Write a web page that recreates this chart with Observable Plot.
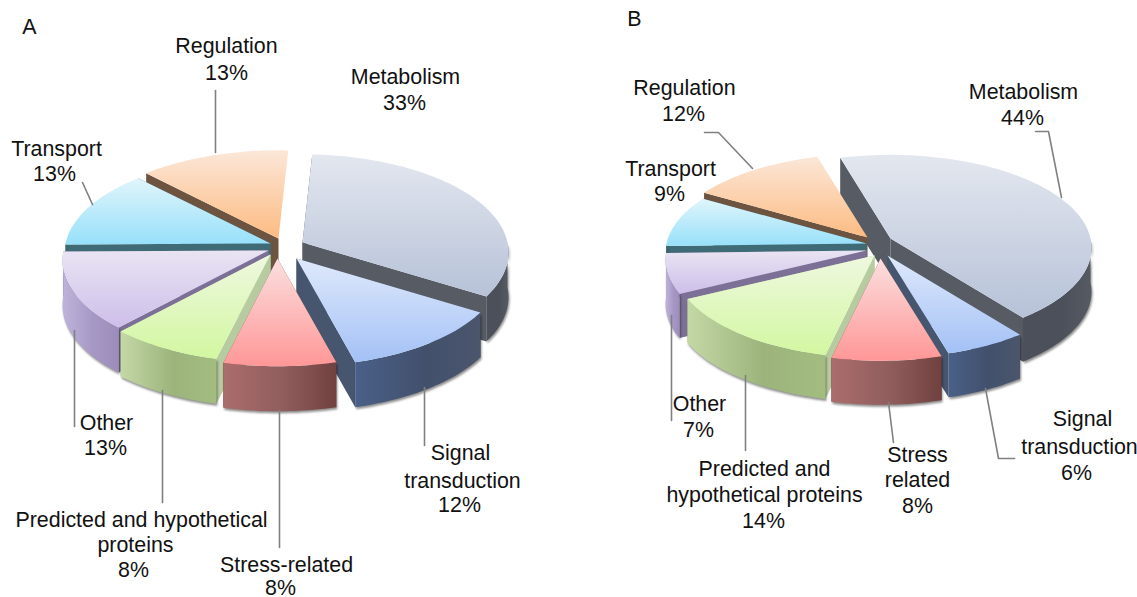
<!DOCTYPE html>
<html>
<head>
<meta charset="utf-8">
<script src="https://cdn.jsdelivr.net/npm/d3@7"></script>
<script src="https://cdn.jsdelivr.net/npm/@observablehq/plot@0.6"></script>
<style>
html,body{margin:0;padding:0;background:#fff;overflow:hidden}
</style>
</head>
<body>
<div id="chart"></div>
<script>
// ---- data ----
const categories = ["Metabolism","Signal transduction","Stress-related","Predicted and hypothetical proteins","Other","Transport","Regulation"];
const sharesA = [33,12,8,8,13,13,13];
const sharesB = [44,6,8,14,7,9,12];

// ---- styles ----
const topLight  = ["#e3e7ef","#dfe9fb","#fbdfdf","#eff8e0","#e9e4f3","#e0f5fb","#fbe7d8"];
const topDark   = ["#b7c2d8","#a3c1f6","#ff9797","#d2f7a0","#cdbee9","#97e0fa","#fdbb82"];
const sideLeft  = ["#4b505a","#4a6088","#ab6d6d","#c4d8a6","#bfb3da","#4d7a86","#7b6048"];
const sideMid   = ["#4b505a","#42506c","#8f5c5c","#9cb47c","#a698c4","#4d7a86","#7b6048"];
const sideRight = ["#565a63","#4b566c","#70413f","#a3bd80","#9c8cba","#4d7a86","#7b6048"];
const wallColor = ["#575b64","#47566f","#7b4a48","#b7cba0","#7c7096","#3f6b76","#6d5440"];

// ---- layout ----
const pieA = {shares: sharesA, rotation: 3, rx: 205, ry: 97, k: 0.1, depth: 45,
  apex: [[302,242],[296,258],[277,258],[270,254],[268,250],[270,243],[278,238]]};
const pieB = {shares: sharesB, rotation: -16, rx: 200, ry: 92, k: 0.1, depth: 44,
  apex: [[890,238],[887,255],[880,258],[874,255],[866,250],[866,243],[867,237]]};
const drawOrder = [0,6,5,4,1,3,2];
const hiddenEndWall = 6; // the Regulation slice shows no wall on its closing edge

const labelText = ["A","Regulation","13%","Metabolism","33%","Transport","13%","Other","13%","Signal","transduction","12%","Predicted and hypothetical","proteins","8%","Stress-related","8%",
  "B","Regulation","12%","Metabolism","44%","Transport","9%","Other","7%","Predicted and","hypothetical proteins","14%","Stress","related","8%","Signal","transduction","6%"];
const labelX = [29,226,226,405,404,56,54,106,105,460,462,459,141,135,133,286,280,
  634,684,683,1023,1022,670,669,699,698,764,764,763,917,917,917,1082,1079,1076];
const labelY = [34,53,80,84,110,156,181,430,455,460,488,512,527,552,577,572,595,
  26,95,121,99,125,176,201,411,437,476,502,528,462,487,513,426,454,480];
const labelSize = 21.4;

const leaders = [
  [[215,90],[215,152]],
  [[82,182],[92,204]],
  [[74,330],[74,426]],
  [[162,390],[162,502]],
  [[279,410],[279,547]],
  [[424,387],[424,445]],
  [[704,132],[718,132],[752,168]],
  [[1035,131],[1048,131],[1061,197]],
  [[671,315],[671,420]],
  [[745,375],[745,450]],
  [[888,402],[893,442]],
  [[985,388],[998,458],[1014,458]]
];

// ---- geometry derived from the shares ----
function rimPoint(pie, i, deg, drop = 0) {
  const a = deg * Math.PI / 180, X = Math.sin(a), Y = Math.cos(a), s = 1 / (1 + pie.k * Y);
  return [pie.apex[i][0] + pie.rx * X * s, pie.apex[i][1] - pie.ry * Y * s + drop];
}
function sliceSurfaces(pie) {
  let cum = 0;
  return pie.shares.map((v, i) => {
    const a0 = pie.rotation + cum * 3.6, a1 = pie.rotation + (cum + v) * 3.6;
    cum += v;
    const angles = d3.range(a0, a1, 1.5).concat([a1]);
    const arc = angles.map(a => rimPoint(pie, i, a));
    const arcLow = angles.map(a => rimPoint(pie, i, a, pie.depth));
    // only the front half of the rim can be seen
    const r0 = Math.max(a0, 90), r1 = Math.min(a1, 270);
    let rim = null;
    if (r1 > r0) {
      const front = d3.range(r0, r1, 1.5).concat([r1]);
      rim = [...front.map(a => rimPoint(pie, i, a)), ...front.slice().reverse().map(a => rimPoint(pie, i, a, pie.depth))];
    }
    const [ax, ay] = pie.apex[i];
    const c = [ax, ay], cl = [ax, ay + pie.depth];
    return {
      i,
      top: [c, ...arc],
      rim,
      wall0: [c, arc[0], arcLow[0], cl],
      wall1: [c, arc[arc.length - 1], arcLow[arcLow.length - 1], cl]
    };
  });
}
const poly = (pts, fill, extra = {}) => Plot.line(pts, {
  x: d => d[0], y: d => d[1], fill, stroke: "none", curve: "linear-closed", ...extra
});
const shadow = {
  render(index, scales, values, dimensions, context, next) {
    const g = next(index, scales, values, dimensions, context);
    g.style.filter = "drop-shadow(1px 2px 1px rgba(0,0,0,.45))";
    return g;
  }
};

function defs() {
  const d = d3.create("svg:defs");
  categories.forEach((_, i) => {
    const t = d.append("linearGradient").attr("id", `top${i}`).attr("x1", 0).attr("x2", 0).attr("y1", 0).attr("y2", 1);
    t.append("stop").attr("offset", "0%").attr("stop-color", topLight[i]);
    t.append("stop").attr("offset", "100%").attr("stop-color", topDark[i]);
    const s = d.append("linearGradient").attr("id", `side${i}`).attr("x1", 0).attr("x2", 1).attr("y1", 0).attr("y2", 0);
    s.append("stop").attr("offset", "0%").attr("stop-color", sideLeft[i]);
    s.append("stop").attr("offset", "55%").attr("stop-color", sideMid[i]);
    s.append("stop").attr("offset", "100%").attr("stop-color", sideRight[i]);
  });
  return d.node();
}

const marks = [defs];
for (const pie of [pieA, pieB]) {
  const surfaces = sliceSurfaces(pie);
  for (const i of drawOrder) {
    const s = surfaces[i];
    marks.push(poly(s.wall0, wallColor[i]));
    if (i !== hiddenEndWall) marks.push(poly(s.wall1, wallColor[i]));
    if (s.rim) marks.push(poly(s.rim, `url(#side${i})`, shadow));
    marks.push(poly(s.top, `url(#top${i})`));
  }
}
for (const l of leaders) {
  marks.push(Plot.line(l, {x: d => d[0], y: d => d[1], stroke: "#808080", strokeWidth: 1.6}));
}
const labelIdx = d3.range(labelText.length);
marks.push(Plot.text(labelIdx, {
  x: i => labelX[i], y: i => labelY[i], text: i => labelText[i],
  textAnchor: "middle", lineAnchor: "bottom", dy: -1, fill: "#111",
  fontSize: labelSize, fontFamily: "Liberation Sans, Arial, sans-serif"
}));

const chart = Plot.plot({
  width: 1137, height: 597,
  margin: 0,
  x: {domain: [0, 1137], range: [0, 1137], axis: null},
  y: {domain: [0, 597], range: [0, 597], axis: null},
  style: {background: "#fff", display: "block"},
  marks
});
document.getElementById("chart").append(chart);
</script>
</body>
</html>
